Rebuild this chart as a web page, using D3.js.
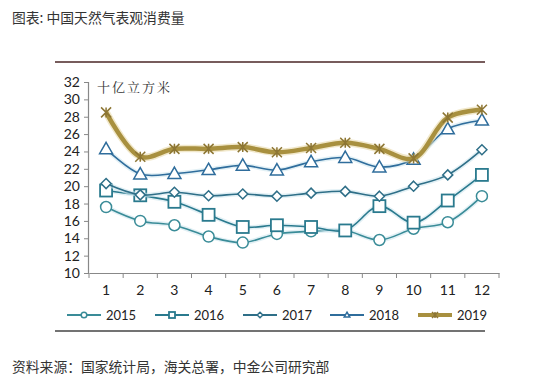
<!DOCTYPE html>
<html><head><meta charset="utf-8">
<script src="https://cdn.jsdelivr.net/npm/d3@7"></script>
<style>body{margin:0;background:#fff}svg{display:block}</style>
</head><body>
<svg id="c" width="550" height="383"></svg>
<script>
const months = ["1","2","3","4","5","6","7","8","9","10","11","12"];
const yTicks = [10,12,14,16,18,20,22,24,26,28,30,32];
const v2015 = [17.6,16.0,15.5,14.2,13.5,14.5,14.8,14.9,13.8,15.1,15.85,18.85];
const v2016 = [19.5,18.95,18.2,16.7,15.3,15.5,15.3,14.9,17.7,15.8,18.35,21.3];
const v2017 = [20.3,19.0,19.3,18.9,19.1,18.85,19.2,19.4,18.85,20.0,21.3,24.2];
const v2018 = [24.3,21.4,21.45,21.9,22.4,21.85,22.8,23.3,22.2,23.1,26.6,27.6];
const v2019 = [28.5,23.4,24.3,24.3,24.5,23.9,24.4,25.0,24.3,23.2,27.9,28.8];
const seriesNames = ["2015","2016","2017","2018","2019"];

const series = [
  {name:"2015", values:v2015, color:"#3a8c98", marker:"circle", width:1.6},
  {name:"2016", values:v2016, color:"#2a7a8e", marker:"square", width:1.6},
  {name:"2017", values:v2017, color:"#2f6f88", marker:"diamond", width:1.6},
  {name:"2018", values:v2018, color:"#2f6d9c", marker:"triangle", width:1.6},
  {name:"2019", values:v2019, color:"#a8903f", marker:"star", width:4.5}
];

const svg = d3.select("#c");
const x = d3.scaleBand().domain(months).range([89,499]);
const y = d3.scaleLinear().domain([10,32]).range([273,82]);
const cx = m => x(m) + x.bandwidth()/2;

// title
svg.append("text").attr("x",12).attr("y",23).attr("font-family","Noto Sans CJK SC")
  .attr("font-size",13.8).attr("fill","#333").text("图表: 中国天然气表观消费量");
// rules
svg.append("line").attr("x1",55).attr("x2",485).attr("y1",62).attr("y2",62).attr("stroke","#4a2626").attr("stroke-width",1.3);
svg.append("line").attr("x1",55).attr("x2",485).attr("y1",331).attr("y2",331).attr("stroke","#444").attr("stroke-width",1.3);
// footer
svg.append("text").attr("x",12).attr("y",372).attr("font-family","Noto Sans CJK SC")
  .attr("font-size",13.8).attr("fill","#333").text("资料来源：国家统计局，海关总署，中金公司研究部");

// axes
const ya = svg.append("g").attr("transform","translate(89,0)")
  .call(d3.axisLeft(y).tickValues(yTicks).tickSize(5).tickPadding(4));
const xa = svg.append("g").attr("transform","translate(0,273)")
  .call(d3.axisBottom(x).tickSize(0).tickPadding(12));
[ya,xa].forEach(a=>{
  a.select(".domain").attr("stroke","#888").attr("stroke-width",1.2);
  a.selectAll(".tick line").attr("stroke","#888");
  a.selectAll("text").attr("font-family","Lato, 'Open Sans', sans-serif").attr("font-size",14).attr("fill","#222");
});
ya.select(".domain").attr("d","M-0.5,82V273.5");
// x ticks at band boundaries
const bounds = months.map(m=>x(m)).concat([x.range()[1]]);
xa.selectAll(".bt").data(bounds).enter().append("line").attr("class","bt")
  .attr("x1",d=>d).attr("x2",d=>d).attr("y1",0).attr("y2",5).attr("stroke","#888");

svg.append("text").attr("x",97).attr("y",92).attr("font-family","Noto Serif CJK SC, Noto Sans CJK SC")
  .attr("font-size",13).attr("letter-spacing",2).attr("fill","#333").text("十亿立方米");

const line = d3.line().x((d,i)=>cx(months[i])).y(d=>y(d)).curve(d3.curveCatmullRom.alpha(0.5));

function drawMarker(g, type, px, py, color, s){
  if(type==="circle") g.append("circle").attr("cx",px).attr("cy",py).attr("r",s).attr("fill","#fff").attr("stroke",color).attr("stroke-width",1.5);
  else if(type==="square") g.append("rect").attr("x",px-s).attr("y",py-s).attr("width",2*s).attr("height",2*s).attr("fill","#fff").attr("stroke",color).attr("stroke-width",1.8);
  else if(type==="diamond") g.append("path").attr("d",`M${px},${py-s}L${px+s},${py}L${px},${py+s}L${px-s},${py}Z`).attr("fill","#fff").attr("stroke",color).attr("stroke-width",1.5);
  else if(type==="triangle") g.append("path").attr("d",`M${px},${py-s}L${px+s},${py+s*0.75}L${px-s},${py+s*0.75}Z`).attr("fill","#fff").attr("stroke",color).attr("stroke-width",1.5);
  else if(type==="star"){
    g.append("path").attr("d",`M${px-s},${py-s}L${px+s},${py+s}M${px-s},${py+s}L${px+s},${py-s}M${px},${py-s}L${px},${py+s}`).attr("stroke","#8d7634").attr("stroke-width",1.5);
  }
}

const sizes = {circle:5.5, square:6, diamond:5, triangle:6.5, star:5};
series.forEach(s=>{
  const g = svg.append("g");
  g.append("path").datum(s.values).attr("d",line).attr("fill","none")
    .attr("stroke",s.name==="2019"?"#e8d9a8":"#cfe6ee").attr("stroke-width",s.width+3).attr("opacity",0.6);
  g.append("path").datum(s.values).attr("d",line).attr("fill","none")
    .attr("stroke",s.color).attr("stroke-width",s.width);
  s.values.forEach((v,i)=>drawMarker(g, s.marker, cx(months[i]), y(v), s.color, sizes[s.marker]));
});

// legend
const lx = [67,155,243,330,418];
series.forEach((s,i)=>{
  const g = svg.append("g");
  const x0 = lx[i], yy = 315;
  g.append("line").attr("x1",x0).attr("x2",x0+34).attr("y1",yy).attr("y2",yy).attr("stroke",s.color).attr("stroke-width",s.name==="2019"?4:2);
  drawMarker(g, s.marker, x0+17, yy, s.color, s.marker==="star"?3:(s.marker==="square"?3:2.8));
  g.append("text").attr("x",x0+39).attr("y",yy+5).attr("font-family","Lato, 'Open Sans', sans-serif")
    .attr("font-size",13).attr("fill","#222").text(seriesNames[i]);
});
</script>
</body></html>
